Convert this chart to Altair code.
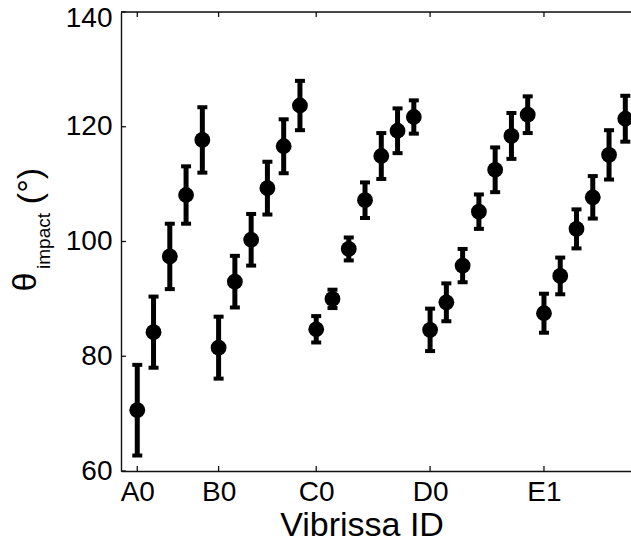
import altair as alt
import pandas as pd

# ---- data ----
whisker_ids = ["A0", "A1", "A2", "A3", "A4",
               "B0", "B1", "B2", "B3", "B4", "B5",
               "C0", "C1", "C2", "C3", "C4", "C5", "C6",
               "D0", "D1", "D2", "D3", "D4", "D5", "D6",
               "E1", "E2", "E3", "E4", "E5", "E6"]
theta_mean = [70.6, 84.2, 97.4, 108.1, 117.7,
              81.5, 93.0, 100.3, 109.3, 116.6, 123.7,
              84.7, 90.0, 98.7, 107.2, 114.9, 119.3, 121.7,
              84.6, 89.4, 95.8, 105.2, 112.5, 118.4, 122.1,
              87.5, 94.0, 102.2, 107.7, 115.1, 121.4]
theta_err = [7.9, 6.2, 5.7, 5.0, 5.7,
             5.4, 4.5, 4.5, 4.6, 4.7, 4.3,
             2.3, 1.6, 2.0, 3.1, 4.0, 3.9, 2.9,
             3.7, 3.3, 2.9, 3.0, 3.9, 4.0, 3.2,
             3.4, 3.2, 3.4, 3.7, 4.3, 4.0]
y_ticks = [60, 80, 100, 120, 140]
x_tick_labels = ["A0", "B0", "C0", "D0", "E1"]
x_title = "Vibrissa ID"
y_title_parts = ["θ", "impact", "(°)"]

FONT = "Liberation Sans"
W, H = 510, 459

pos = list(range(len(whisker_ids)))
df = pd.DataFrame({
    "pos": pos,
    "id": whisker_ids,
    "mean": theta_mean,
    "lo": [m - e for m, e in zip(theta_mean, theta_err)],
    "hi": [m + e for m, e in zip(theta_mean, theta_err)],
})
x_tick_pos = [whisker_ids.index(l) for l in x_tick_labels]
label_expr = " : ".join(
    [f"datum.value == {p} ? '{l}'" for p, l in zip(x_tick_pos, x_tick_labels)]
) + " : ''"

xscale = alt.Scale(domain=[-1, 30.35], nice=False, zero=False)
yscale = alt.Scale(domain=[60, 140], nice=False, zero=False)

xaxis = alt.Axis(values=x_tick_pos, labelExpr=label_expr, ticks=False, grid=False,
                 domain=True, domainColor="#111", domainWidth=1.4,
                 labelFont=FONT, labelFontSize=28, labelColor="black",
                 labelPadding=7, labelFlush=False, labelOverlap=False, title=None)
yaxis = alt.Axis(values=y_ticks, ticks=False, grid=False,
                 domain=True, domainColor="#111", domainWidth=1.4,
                 labelFont=FONT, labelFontSize=28, labelColor="black",
                 labelPadding=9, title=None,
                 labelOffset={"condition": {"test": f"datum.value == {max(y_ticks)}", "value": 6},
                              "value": 0})


def X(field):
    return alt.X(field, scale=xscale, axis=xaxis)


def Y(field):
    return alt.Y(field, scale=yscale, axis=yaxis)


base = alt.Chart(df)
bars = base.mark_rule(strokeWidth=5, color="black").encode(
    x=X("pos:Q"), y=Y("lo:Q"), y2="hi:Q",
)
caps_hi = base.mark_tick(orient="horizontal", size=10, thickness=4, color="black", opacity=1).encode(
    x=X("pos:Q"), y=Y("hi:Q"),
)
caps_lo = base.mark_tick(orient="horizontal", size=10, thickness=4, color="black", opacity=1).encode(
    x=X("pos:Q"), y=Y("lo:Q"),
)
points = base.mark_circle(size=250, color="black", opacity=1).encode(
    x=X("pos:Q"), y=Y("mean:Q"),
)

ytick_df = pd.DataFrame({"v": y_ticks})
xtick_df = pd.DataFrame({"p": x_tick_pos})
one = pd.DataFrame({"k": [0]})

ytick_rules = alt.Chart(ytick_df).mark_rule(color="#111", strokeWidth=1.3).encode(
    y=Y("v:Q"), x=alt.value(0), x2=alt.value(5))
xtick_top = alt.Chart(xtick_df).mark_rule(color="#111", strokeWidth=1.3).encode(
    x=X("p:Q"), y=alt.value(0), y2=alt.value(5))
xtick_bot = alt.Chart(xtick_df).mark_rule(color="#111", strokeWidth=1.3).encode(
    x=X("p:Q"), y=alt.value(H), y2=alt.value(H - 5))
top_line = alt.Chart(one).mark_rule(color="#111", strokeWidth=1.4).encode(
    x=alt.value(0), x2=alt.value(W + 5), y=alt.value(0))

xt = alt.Chart(one).mark_text(text=x_title, font=FONT, fontSize=34, color="black",
                              align="center", baseline="alphabetic").encode(
    x=alt.value(241), y=alt.value(524))
yt_theta = alt.Chart(one).mark_text(text=y_title_parts[0], font=FONT, fontSize=34, color="black",
                                    align="center", baseline="middle", angle=270).encode(
    x=alt.value(-95), y=alt.value(270))
yt_sub = alt.Chart(one).mark_text(text=y_title_parts[1], font=FONT, fontSize=19, color="black",
                                  align="center", baseline="middle", angle=270).encode(
    x=alt.value(-77), y=alt.value(229))
yt_unit = alt.Chart(one).mark_text(text=y_title_parts[2], font=FONT, fontSize=34, color="black",
                                   align="center", baseline="middle", angle=270).encode(
    x=alt.value(-90), y=alt.value(174))

chart = alt.layer(
    bars, caps_hi, caps_lo, points, ytick_rules, xtick_top, xtick_bot, top_line,
    xt, yt_theta, yt_sub, yt_unit,
).properties(
    width=W, height=H,
    autosize=alt.AutoSizeParams(type="none"),
    padding={"left": 121, "top": 12, "right": 0, "bottom": 73},
).configure_view(stroke=None).configure(background="white")

chart.save("out.html", embed_options={"renderer": "svg", "actions": False})
